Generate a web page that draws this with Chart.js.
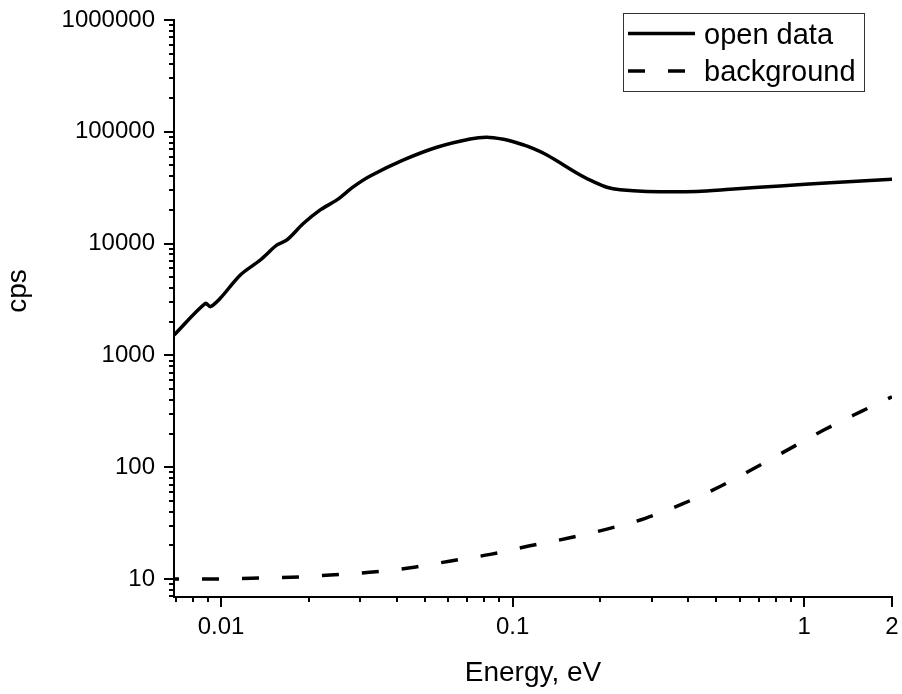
<!DOCTYPE html>
<html>
<head>
<meta charset="utf-8">
<script src="https://cdn.jsdelivr.net/npm/chart.js@4/dist/chart.umd.min.js"></script>
<style>
  html, body { margin: 0; padding: 0; background: #fff; }
  #c { display: block; }
</style>
</head>
<body>
<canvas id="c" width="902" height="694"></canvas>
<script>
// Open-beam spectrum (counts per second vs neutron energy)
const openEnergy = [0.0069, 0.00884, 0.00919, 0.00994, 0.01165, 0.01364, 0.01556, 0.01684, 0.0192, 0.0219,
  0.02497, 0.02849, 0.03249, 0.04227, 0.055, 0.07155, 0.0816, 0.0931, 0.1007, 0.1134,
  0.1311, 0.1705, 0.1893, 0.2105, 0.2338, 0.2886, 0.4283, 0.5572, 0.8269, 1.227, 2.0];
const openCps = [1520, 2920, 2730, 3240, 5240, 7130, 9720, 10800, 15200, 20000,
  24600, 32300, 40200, 56000, 72700, 86200, 89300, 85700, 81500, 73600,
  62000, 41100, 35800, 31900, 30300, 29300, 29300, 30600, 32800, 35100, 37600];

// Background spectrum
const bgEnergy = [0.0069, 0.00931, 0.01271, 0.01735, 0.02369, 0.03234, 0.0446, 0.06135, 0.08376, 0.1135,
  0.1543, 0.209, 0.2852, 0.3824, 0.5125, 0.6741, 0.8869, 1.167, 1.564, 2.0];
const bgCps = [10.0, 10.0, 10.15, 10.36, 10.86, 11.48, 12.6, 14.5, 16.6, 19.7,
  23.1, 27.8, 34.9, 46.9, 66.9, 97.8, 145, 215, 314, 427];

const seriesNames = ['open data', 'background'];

// Axis ticks
const xMajorTicks = [0.01, 0.1, 1, 2];
const xMinorTicks = [0.007, 0.008, 0.009,
  0.02, 0.03, 0.04, 0.05, 0.06, 0.07, 0.08, 0.09,
  0.2, 0.3, 0.4, 0.5, 0.6, 0.7, 0.8, 0.9];
const yMajorTicks = [10, 100, 1000, 10000, 100000, 1000000];
const yMinorTicks = [7, 8, 9];
for (let d = 10; d < 1000000; d *= 10) {
  for (let k = 2; k <= 9; k++) yMinorTicks.push(k * d);
}

const xTitle = 'Energy, eV';
const yTitle = 'cps';

const FONT = '"Liberation Sans", Arial, Helvetica, sans-serif';

const toPoints = (xs, ys) => xs.map((x, i) => ({ x: x, y: ys[i] }));
const sortNum = arr => arr.slice().sort((a, b) => a - b);
const noScalePadding = s => { s.paddingTop = 0; s.paddingBottom = 0; s.paddingLeft = 0; s.paddingRight = 0; };

// Tick marks, axis titles and the boxed legend
const decorations = {
  id: 'decorations',
  afterDraw(chart) {
    const ctx = chart.ctx;
    const xs = chart.scales.x, ys = chart.scales.y;
    const area = chart.chartArea;
    ctx.save();
    ctx.strokeStyle = '#000';
    ctx.lineWidth = 2;
    ctx.lineCap = 'butt';

    const xTick = (v, len) => {
      const px = Math.round(xs.getPixelForValue(v));
      ctx.beginPath();
      ctx.moveTo(px, area.bottom);
      ctx.lineTo(px, area.bottom + len);
      ctx.stroke();
    };
    const yTick = (v, len) => {
      const py = Math.round(ys.getPixelForValue(v));
      ctx.beginPath();
      ctx.moveTo(area.left, py);
      ctx.lineTo(area.left - len, py);
      ctx.stroke();
    };
    xMajorTicks.forEach(v => xTick(v, 10));
    xMinorTicks.forEach(v => xTick(v, 5));
    yMajorTicks.forEach(v => yTick(v, 10));
    yMinorTicks.forEach(v => yTick(v, 5));

    // axis titles
    ctx.fillStyle = '#000';
    ctx.font = '28px ' + FONT;
    ctx.textAlign = 'center';
    ctx.textBaseline = 'alphabetic';
    ctx.fillText(xTitle, (area.left + area.right) / 2, 681);
    ctx.save();
    ctx.translate(25.5, 291);
    ctx.rotate(-Math.PI / 2);
    ctx.fillText(yTitle, 0, 0);
    ctx.restore();

    // legend
    const bx = 623.5, by = 13.5, bw = 241, bh = 78;
    ctx.fillStyle = '#fff';
    ctx.fillRect(bx, by, bw, bh);
    ctx.strokeStyle = '#333';
    ctx.lineWidth = 1;
    ctx.strokeRect(bx, by, bw, bh);
    const rows = [{ y: 33.5, base: 44 }, { y: 71, base: 81 }];
    chart.data.datasets.forEach((ds, i) => {
      ctx.strokeStyle = ds.borderColor;
      ctx.lineWidth = ds.borderWidth;
      ctx.setLineDash(ds.borderDash || []);
      ctx.lineDashOffset = 0;
      ctx.beginPath();
      ctx.moveTo(628, rows[i].y);
      ctx.lineTo(695, rows[i].y);
      ctx.stroke();
      ctx.setLineDash([]);
      ctx.fillStyle = '#000';
      ctx.font = '29px ' + FONT;
      ctx.textAlign = 'left';
      ctx.textBaseline = 'alphabetic';
      ctx.fillText(ds.label, 704, rows[i].base);
    });
    ctx.restore();
  }
};

new Chart(document.getElementById('c'), {
  type: 'line',
  data: {
    datasets: [
      {
        label: seriesNames[0],
        data: toPoints(openEnergy, openCps),
        borderColor: '#000',
        borderWidth: 3.5,
        pointRadius: 0,
        fill: false,
        tension: 0.3
      },
      {
        label: seriesNames[1],
        data: toPoints(bgEnergy, bgCps),
        borderColor: '#000',
        borderWidth: 3.5,
        borderDash: [17, 23],
        borderDashOffset: 12,
        pointRadius: 0,
        fill: false,
        cubicInterpolationMode: 'monotone'
      }
    ]
  },
  options: {
    responsive: false,
    animation: false,
    devicePixelRatio: 1,
    layout: { padding: { left: 0, top: 20, right: 10, bottom: 0 } },
    plugins: { legend: { display: false }, tooltip: { enabled: false } },
    scales: {
      x: {
        type: 'logarithmic',
        position: 'bottom',
        bounds: 'data',
        min: 0.0069,
        max: 2,
        grid: { display: false, drawTicks: false },
        border: { display: true, color: '#000', width: 2 },
        afterBuildTicks: s => { s.ticks = sortNum(xMajorTicks.concat(xMinorTicks)).map(v => ({ value: v })); },
        afterFit: s => { s.height = 97; noScalePadding(s); },
        ticks: {
          autoSkip: false,
          maxRotation: 0,
          minRotation: 0,
          padding: 16,
          color: '#000',
          font: { family: FONT, size: 24 },
          callback: v => (xMajorTicks.includes(v) ? String(v) : '')
        }
      },
      y: {
        type: 'logarithmic',
        position: 'left',
        bounds: 'data',
        min: 6.9,
        max: 1000000,
        grid: { display: false, drawTicks: false },
        border: { display: true, color: '#000', width: 2 },
        afterBuildTicks: s => { s.ticks = sortNum(yMajorTicks.concat(yMinorTicks)).map(v => ({ value: v })); },
        afterFit: s => { s.width = 174; noScalePadding(s); },
        ticks: {
          autoSkip: false,
          padding: 19,
          color: '#000',
          font: { family: FONT, size: 24 },
          callback: v => (yMajorTicks.includes(v) ? String(v) : '')
        }
      }
    }
  },
  plugins: [decorations]
});
</script>
</body>
</html>
